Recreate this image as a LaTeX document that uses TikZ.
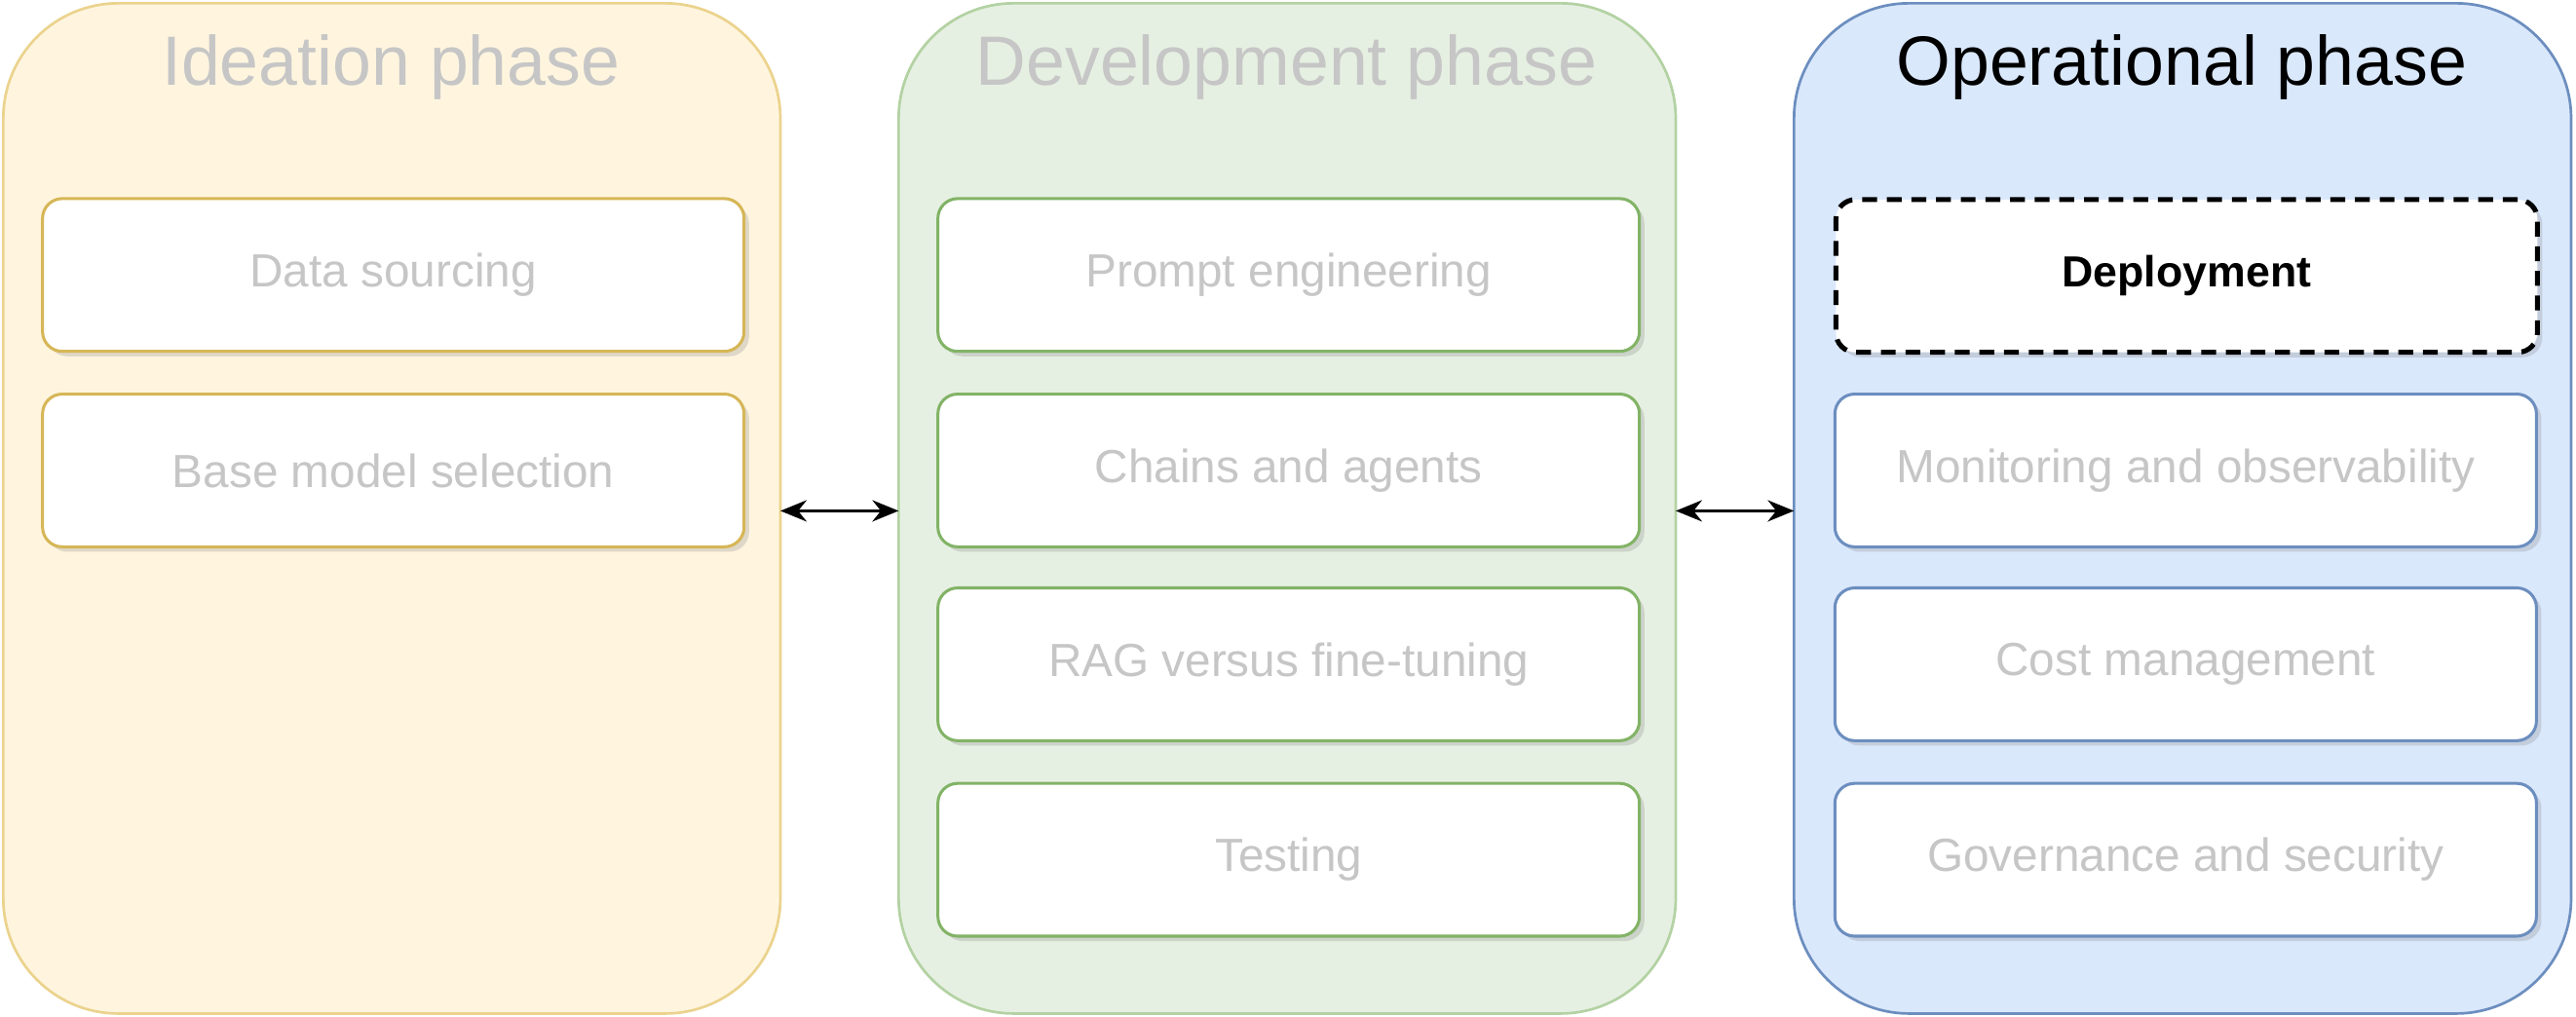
\documentclass[tikz,border=0pt]{standalone}
\usepackage{fontspec}
\setmainfont{Liberation Sans}
\usetikzlibrary{shadows,arrows.meta}
\definecolor{yfill}{HTML}{FFF5DF}\definecolor{ystroke}{HTML}{EBD38E}
\definecolor{gfill}{HTML}{E6F0E2}\definecolor{gstroke}{HTML}{B3D2A3}
\definecolor{bfill}{HTML}{DAE8FC}\definecolor{bstroke}{HTML}{6C8EBF}
\definecolor{yin}{HTML}{D6B656}\definecolor{gin}{HTML}{82B366}
\definecolor{fade}{HTML}{C6C6C6}
\begin{document}
\begin{tikzpicture}[x=1pt,y=-1pt,
 panel/.style={draw,line width=1.6pt,rounded corners=70pt},
 item/.style={draw,line width=1.8pt,rounded corners=12pt,fill=white,minimum width=427pt,minimum height=93pt,anchor=north west,inner sep=0pt,font=\fontsize{28.3}{32}\selectfont,text=fade,drop shadow={shadow xshift=3pt,shadow yshift=-3pt,opacity=0.25}},
 ttl/.style={font=\fontsize{42.5}{48}\selectfont,anchor=center},
 arr/.style={{Stealth[length=16pt,width=13pt]}-{Stealth[length=16pt,width=13pt]},line width=1.8pt}]
\useasboundingbox (0,0) rectangle (1568,619);
\draw[panel,fill=yfill,draw=ystroke] (2,2) rectangle (475,617);
\draw[panel,fill=gfill,draw=gstroke] (547,2) rectangle (1020,617);
\draw[panel,fill=bfill,draw=bstroke] (1092,2) rectangle (1565,617);
\coordinate (p1r) at (475,311);\coordinate (p2l) at (547,311);
\coordinate (p2r) at (1020,311);\coordinate (p3l) at (1092,311);
\node[ttl,text=fade] (t1) at (238,41) {Ideation phase};
\node[ttl,text=fade] (t2) at (783,41) {Development phase};
\node[ttl] (t3) at (1328,41) {Operational phase};
\node[item,draw=yin] (a1) at (25,120) {Data sourcing};
\node[item,draw=yin] (a2) at (25,239) {Base model selection};
\node[item,draw=gin] (b1) at (570,120) {Prompt engineering};
\node[item,draw=gin] (b2) at (570,239) {Chains and agents};
\node[item,draw=gin] (b3) at (570,357) {RAG versus fine-tuning};
\node[item,draw=gin] (b4) at (570,476) {Testing};
\node[item,draw=black,dash pattern=on 9pt off 6pt,line width=3pt,text=black,font=\fontsize{26.5}{30}\selectfont\bfseries] (c1) at (1116,120) {Deployment};
\node[item,draw=bstroke] (c2) at (1116,239) {Monitoring and observability};
\node[item,draw=bstroke] (c3) at (1116,357) {Cost management};
\node[item,draw=bstroke] (c4) at (1116,476) {Governance and security};
\draw[arr] (p1r) -- (p2l);
\draw[arr] (p2r) -- (p3l);
\end{tikzpicture}
\end{document}
